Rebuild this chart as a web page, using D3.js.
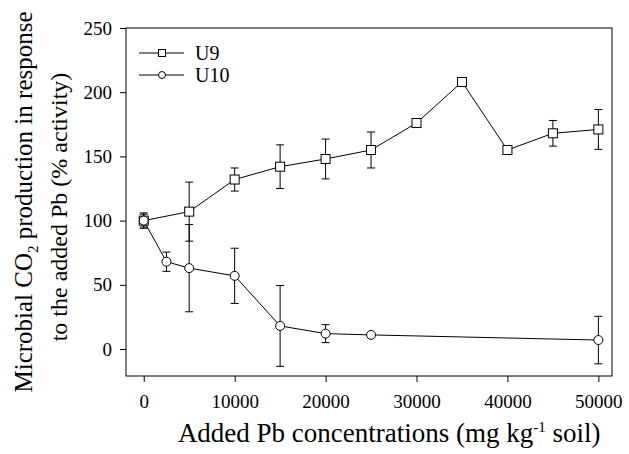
<!DOCTYPE html>
<html>
<head>
<meta charset="utf-8">
<script src="https://cdn.jsdelivr.net/npm/d3@7"></script>
</head>
<body style="margin:0;background:#fff">
<svg id="chart"></svg>
<script>
// data
var concU9 = [0, 5000, 10000, 15000, 20000, 25000, 30000, 35000, 40000, 45000, 50000];
var actU9  = [100, 107, 132, 142, 148, 155, 176, 208, 155, 168, 171];
var errU9  = [6, 23, 9, 17, 15.5, 14, 0, 0, 0, 10, 15.5];

var concU10 = [0, 2500, 5000, 10000, 15000, 20000, 25000, 50000];
var actU10  = [100, 68, 63, 57, 18, 12, 11, 7];
var errU10  = [5, 7.5, 34, 21.5, 31.5, 7, 0, 18.5];

var xTicks = [0, 10000, 20000, 30000, 40000, 50000];
var yTicks = [0, 50, 100, 150, 200, 250];
var seriesNames = ["U9", "U10"];

var serif = "'Liberation Serif', 'Times New Roman', 'DejaVu Serif', serif";

var screen = { width: 629, height: 454 };
var margins = { top: 28, bottom: 78, left: 126, right: 17 };
var width = screen.width - margins.left - margins.right;
var height = screen.height - margins.top - margins.bottom;

var svg = d3.select("#chart")
            .attr("width", screen.width)
            .attr("height", screen.height)
            .attr("font-family", serif)
            .style("display", "block");

var xScale = d3.scaleLinear().domain([-1950, 51500]).range([0, width]);
var yScale = d3.scaleLinear().domain([-21, 250]).range([height, 0]);

var series = [
  { name: seriesNames[0], shape: "square",
    pts: concU9.map(function(c, i){ return { x: c, y: actU9[i], e: errU9[i] }; }) },
  { name: seriesNames[1], shape: "circle",
    pts: concU10.map(function(c, i){ return { x: c, y: actU10[i], e: errU10[i] }; }) }
];

var plot = svg.append("g")
              .attr("transform", "translate(" + margins.left + "," + margins.top + ")");

// axes
var xAxis = d3.axisBottom(xScale).tickValues(xTicks).tickSize(6).tickSizeOuter(0).tickPadding(13)
              .tickFormat(d3.format("d"));
var yAxis = d3.axisLeft(yScale).tickValues(yTicks).tickSize(6).tickSizeOuter(0).tickPadding(8)
              .tickFormat(d3.format("d"));

var gx = plot.append("g").attr("transform", "translate(0," + height + ")").call(xAxis);
var gy = plot.append("g").call(yAxis);
[gx, gy].forEach(function(g){
  g.attr("font-family", serif).attr("font-size", 19);
  g.select(".domain").remove();
  g.selectAll("line").attr("stroke", "#000");
  g.selectAll("text").attr("fill", "#000");
});

plot.append("rect")
    .attr("x", 0).attr("y", 0)
    .attr("width", width).attr("height", height)
    .attr("fill", "none").attr("stroke", "#000").attr("stroke-width", 1);

// error bars
var cap = 4;
series.forEach(function(s){
  var bars = plot.append("g").selectAll("g")
                 .data(s.pts.filter(function(d){ return d.e > 0; }))
                 .enter().append("g").attr("stroke", "#000").attr("stroke-width", 1);
  bars.append("line")
      .attr("x1", function(d){ return xScale(d.x); })
      .attr("x2", function(d){ return xScale(d.x); })
      .attr("y1", function(d){ return yScale(d.y + d.e); })
      .attr("y2", function(d){ return yScale(d.y - d.e); });
  [1, -1].forEach(function(sign){
    bars.append("line")
        .attr("x1", function(d){ return xScale(d.x) - cap; })
        .attr("x2", function(d){ return xScale(d.x) + cap; })
        .attr("y1", function(d){ return yScale(d.y + sign * d.e); })
        .attr("y2", function(d){ return yScale(d.y + sign * d.e); });
  });
});

// lines
var line = d3.line().x(function(d){ return xScale(d.x); }).y(function(d){ return yScale(d.y); });
series.forEach(function(s){
  plot.append("path").datum(s.pts)
      .attr("d", line).attr("fill", "none").attr("stroke", "#000").attr("stroke-width", 1);
});

// markers
function drawMarker(g, shape, size) {
  if (shape === "square") {
    g.append("rect").attr("x", -size / 2).attr("y", -size / 2)
     .attr("width", size).attr("height", size)
     .attr("fill", "#fff").attr("stroke", "#000").attr("stroke-width", 1);
  } else {
    g.append("circle").attr("r", size / 2)
     .attr("fill", "#fff").attr("stroke", "#000").attr("stroke-width", 1);
  }
}
series.forEach(function(s){
  plot.append("g").selectAll("g")
      .data(s.pts).enter().append("g")
      .attr("transform", function(d){ return "translate(" + xScale(d.x) + "," + yScale(d.y) + ")"; })
      .each(function(){ drawMarker(d3.select(this), s.shape, 9); });
});

// legend
var legend = plot.append("g").attr("transform", "translate(13,25)");
var legendLines = legend.selectAll("g")
                        .data(series).enter().append("g")
                        .attr("transform", function(d, i){ return "translate(0," + (i * 22) + ")"; });
legendLines.append("line").attr("x1", 0).attr("x2", 45).attr("y1", 0).attr("y2", 0)
           .attr("stroke", "#000").attr("stroke-width", 1);
legendLines.each(function(d){
  var m = d3.select(this).append("g").attr("transform", "translate(23,0)");
  drawMarker(m, d.shape, 7);
});
legendLines.append("text").attr("x", 56).attr("y", 7)
           .attr("font-size", 20).text(function(d){ return d.name; });

// axis titles
var xTitle = svg.append("text")
                .attr("x", margins.left + xScale(27000)).attr("y", 442)
                .attr("text-anchor", "middle").attr("font-size", 27);
xTitle.append("tspan").text("Added Pb concentrations (mg kg");
xTitle.append("tspan").attr("dy", -10).attr("font-size", 15).text("-1");
xTitle.append("tspan").attr("dy", 10).text(" soil)");

var yl1 = svg.append("text").attr("transform", "translate(32,202) rotate(-90)")
             .attr("text-anchor", "middle").attr("font-size", 25);
yl1.append("tspan").text("Microbial CO");
yl1.append("tspan").attr("dy", 6).attr("font-size", 15).text("2");
yl1.append("tspan").attr("dy", -6).text(" production in response");
svg.append("text").attr("transform", "translate(67,207) rotate(-90)")
   .attr("text-anchor", "middle").attr("font-size", 24)
   .text("to the added Pb (% activity)");
</script>
</body>
</html>
